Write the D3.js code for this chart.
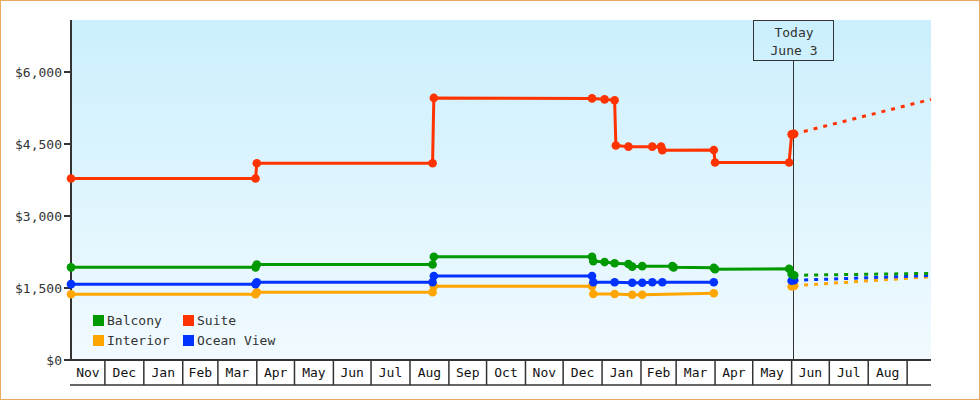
<!DOCTYPE html>
<html>
<head>
<meta charset="utf-8">
<script src="https://cdn.jsdelivr.net/npm/d3@7"></script>
<style>
  html, body { margin: 0; padding: 0; background: #fff; }
  svg { display: block; }
  text { font-family: "DejaVu Sans Mono", "Liberation Mono", monospace; font-size: 13px; fill: #333; }
</style>
</head>
<body>
<script>
// ---------- DATA ----------
const domainStart = "2013-11-04";
const domainEnd = "2015-09-20";
const todayDate = "2015-06-03";
const todayLabel = ["Today", "June 3"];

const yTicks = [0, 1500, 3000, 4500, 6000];

// first day of each labelled month cell on the x axis
const monthStarts = ["2013-11-01","2013-12-01","2014-01-01","2014-02-01","2014-03-01","2014-04-01",
  "2014-05-01","2014-06-01","2014-07-01","2014-08-01","2014-09-01","2014-10-01","2014-11-01",
  "2014-12-01","2015-01-01","2015-02-01","2015-03-01","2015-04-01","2015-05-01","2015-06-01",
  "2015-07-01","2015-08-01"];
const monthLabels = ["Nov","Dec","Jan","Feb","Mar","Apr","May","Jun","Jul","Aug","Sep","Oct",
  "Nov","Dec","Jan","Feb","Mar","Apr","May","Jun","Jul","Aug"];

const seriesNames = ["Balcony", "Suite", "Interior", "Ocean View"];
const seriesColors = ["#009900", "#ff3300", "#ffa500", "#0033ff"];

const balcony = [
  ["2013-11-04",1930],["2014-03-31",1930],["2014-04-01",1990],["2014-08-19",1990],["2014-08-20",2150],
  ["2014-12-24",2150],["2014-12-25",2060],["2015-01-03",2040],["2015-01-11",2015],["2015-01-22",2000],
  ["2015-01-25",1945],["2015-02-02",1955],["2015-02-26",1955],["2015-02-27",1930],["2015-03-31",1920],
  ["2015-04-01",1890],["2015-05-30",1900],["2015-06-01",1790],["2015-06-03",1765]
];
const suite = [
  ["2013-11-04",3780],["2014-03-31",3780],["2014-04-01",4100],["2014-08-19",4100],["2014-08-20",5460],
  ["2014-12-24",5450],["2015-01-03",5430],["2015-01-11",5410],["2015-01-12",4470],["2015-01-22",4445],
  ["2015-02-10",4445],["2015-02-17",4445],["2015-02-18",4370],["2015-03-31",4375],["2015-04-01",4115],
  ["2015-05-30",4115],["2015-06-01",4700],["2015-06-02",4705],["2015-06-03",4710]
];
const interior = [
  ["2013-11-04",1370],["2014-03-31",1370],["2014-04-01",1410],["2014-08-19",1410],["2014-08-20",1535],
  ["2014-12-24",1535],["2014-12-25",1375],["2015-01-11",1375],["2015-01-25",1360],["2015-02-02",1360],
  ["2015-03-31",1390],["2015-04-15",null],["2015-06-01",1530],["2015-06-03",1545]
];
const oceanView = [
  ["2013-11-04",1580],["2014-03-31",1580],["2014-04-01",1620],["2014-08-19",1620],["2014-08-20",1750],
  ["2014-12-24",1750],["2014-12-25",1620],["2015-01-11",1620],["2015-01-25",1610],["2015-02-02",1610],
  ["2015-02-10",1620],["2015-02-18",1620],["2015-03-31",1620],["2015-04-15",null],["2015-06-01",1650],
  ["2015-06-03",1660]
];

// forecasts from today to the end of the chart
const balconyForecast = [["2015-06-03",1765],["2015-09-20",1805]];
const suiteForecast = [["2015-06-03",4710],["2015-09-20",5430]];
const interiorForecast = [["2015-06-03",1548],["2015-09-20",1735]];
const oceanViewForecast = [["2015-06-03",1660],["2015-09-20",1760]];

// ---------- CHART ----------
const W = 980, H = 400;
const plot = { left: 71, right: 931, top: 20, bottom: 360 };
const parse = d3.timeParse("%Y-%m-%d");

const x = d3.scaleTime().domain([parse(domainStart), parse(domainEnd)]).range([plot.left, plot.right]);
const y = d3.scaleLinear().domain([0, 6000]).range([plot.bottom, 72]);

const svg = d3.select("body").append("svg").attr("width", W).attr("height", H);

const defs = svg.append("defs");
const grad = defs.append("linearGradient").attr("id", "bg").attr("x1", 0).attr("y1", 0).attr("x2", 0).attr("y2", 1);
grad.append("stop").attr("offset", "0%").attr("stop-color", "#cbeffd");
grad.append("stop").attr("offset", "100%").attr("stop-color", "#f1faff");

// outer border
svg.append("rect").attr("x", 0.5).attr("y", 0.5).attr("width", W - 1).attr("height", H - 1)
  .attr("fill", "#fff").attr("stroke", "#e9a963").attr("stroke-width", 1);

// plot background
svg.append("rect").attr("x", plot.left).attr("y", plot.top)
  .attr("width", plot.right - plot.left).attr("height", plot.bottom - plot.top)
  .attr("fill", "url(#bg)");

// today marker
const tx = Math.round(x(parse(todayDate))) - 0.5;
svg.append("line").attr("x1", tx).attr("x2", tx).attr("y1", 60.5).attr("y2", plot.bottom)
  .attr("stroke", "#333").attr("stroke-width", 1);
svg.append("rect").attr("x", tx - 40).attr("y", 20.5).attr("width", 80).attr("height", 40)
  .attr("fill", "none").attr("stroke", "#333").attr("stroke-width", 1);
svg.append("text").attr("x", tx + 0.5).attr("y", 37).attr("text-anchor", "middle").text(todayLabel[0]);
svg.append("text").attr("x", tx + 0.5).attr("y", 55).attr("text-anchor", "middle").text(todayLabel[1]);

// y axis
const yAxis = svg.append("g");
yAxis.append("line").attr("x1", plot.left).attr("x2", plot.left).attr("y1", plot.top).attr("y2", plot.bottom)
  .attr("stroke", "#333").attr("stroke-width", 2);
const fmt = d3.format("$,");
yTicks.forEach(v => {
  yAxis.append("line").attr("x1", plot.left - 7).attr("x2", plot.left).attr("y1", y(v)).attr("y2", y(v))
    .attr("stroke", "#333").attr("stroke-width", 2);
  yAxis.append("text").attr("x", plot.left - 9).attr("y", y(v)).attr("dy", "0.35em")
    .attr("text-anchor", "end").text(fmt(v));
});

// x axis: month cells
const xAxis = svg.append("g");
xAxis.append("line").attr("x1", plot.left - 1).attr("x2", plot.right).attr("y1", plot.bottom).attr("y2", plot.bottom)
  .attr("stroke", "#333").attr("stroke-width", 2);
xAxis.append("line").attr("x1", plot.left - 1).attr("x2", plot.right).attr("y1", 385).attr("y2", 385)
  .attr("stroke", "#333").attr("stroke-width", 1.5);
monthStarts.forEach((m, i) => {
  const s = parse(m);
  const e = d3.timeMonth.offset(s, 1);
  const x0 = Math.max(x(s), plot.left);
  const x1 = Math.min(x(e), plot.right);
  xAxis.append("line").attr("x1", x1).attr("x2", x1).attr("y1", plot.bottom).attr("y2", 385)
    .attr("stroke", "#333").attr("stroke-width", 1.5);
  xAxis.append("text").attr("x", (x0 + x1) / 2).attr("y", 377).attr("text-anchor", "middle")
    .style("fill", "#111").text(monthLabels[i]);
});

// series
const toPts = arr => arr.map(d => ({ date: parse(d[0]), value: d[1] }));
const line = d3.line().defined(d => d.value != null).x(d => x(d.date)).y(d => y(d.value));

const drawOrder = [
  { data: interior, fc: interiorForecast, color: seriesColors[2] },
  { data: oceanView, fc: oceanViewForecast, color: seriesColors[3] },
  { data: balcony, fc: balconyForecast, color: seriesColors[0] },
  { data: suite, fc: suiteForecast, color: seriesColors[1] }
];

drawOrder.forEach(s => {
  const pts = toPts(s.data);
  svg.append("path").attr("d", line(toPts(s.fc))).attr("fill", "none")
    .attr("stroke", s.color).attr("stroke-width", 3).attr("stroke-dasharray", "4,6");
  svg.append("path").attr("d", line(pts)).attr("fill", "none")
    .attr("stroke", s.color).attr("stroke-width", 3);
  svg.append("g").selectAll("circle").data(pts.filter(d => d.value != null)).join("circle")
    .attr("cx", d => x(d.date)).attr("cy", d => y(d.value)).attr("r", 4.3).attr("fill", s.color);
});

// legend
const legend = svg.append("g");
seriesNames.forEach((n, i) => {
  const col = i % 2, row = Math.floor(i / 2);
  const lx = 93 + col * 90, ly = 315 + row * 20;
  legend.append("rect").attr("x", lx).attr("y", ly).attr("width", 11).attr("height", 11).attr("fill", seriesColors[i]);
  legend.append("text").attr("x", lx + 14).attr("y", ly + 10).text(n);
});
</script>
</body>
</html>
